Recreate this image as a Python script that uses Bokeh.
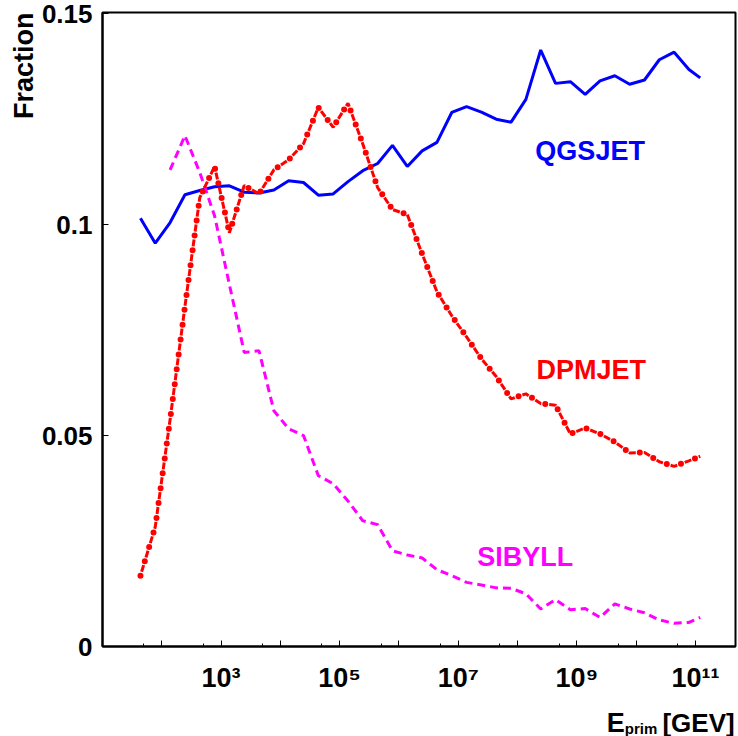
from bokeh.plotting import figure
from bokeh.layouts import column
from bokeh.models import Range1d, FixedTicker, NumeralTickFormatter, Label, ColumnDataSource, Title
from bokeh.embed import file_html
from bokeh.resources import INLINE

# log10 of primary energy (GeV) at each point
log_e = [1.64, 1.89, 2.14, 2.39, 2.64, 2.89, 3.14, 3.39, 3.64, 3.89,
         4.14, 4.39, 4.64, 4.89, 5.14, 5.39, 5.64, 5.89, 6.14, 6.39,
         6.64, 6.89, 7.14, 7.39, 7.64, 7.89, 8.14, 8.39, 8.64, 8.89,
         9.14, 9.39, 9.64, 9.89, 10.14, 10.39, 10.64, 10.89, 11.08]

qgsjet = [0.1015, 0.0956, 0.1005, 0.1071, 0.1081, 0.1090, 0.1092, 0.1077, 0.1075, 0.1082,
          0.1104, 0.1100, 0.1070, 0.1073, 0.1102, 0.1128, 0.1145, 0.1188, 0.1138, 0.1175,
          0.1195, 0.1266, 0.1280, 0.1267, 0.1250, 0.1243, 0.1297, 0.1414, 0.1335, 0.1339,
          0.1309, 0.1341, 0.1353, 0.1333, 0.1343, 0.1391, 0.1409, 0.1368, 0.1348]

dpmjet = [0.0168, 0.0284, 0.0538, 0.0806, 0.1064, 0.1138, 0.0981, 0.1093, 0.1073, 0.1130,
          0.1154, 0.1192, 0.1278, 0.1231, 0.1288, 0.1191, 0.1088, 0.1036, 0.1024, 0.0931,
          0.0841, 0.0784, 0.0734, 0.0682, 0.0640, 0.0587, 0.0599, 0.0576, 0.0572, 0.0504,
          0.0518, 0.0504, 0.0485, 0.0459, 0.0460, 0.0438, 0.0427, 0.0440, 0.0451]

sibyll_log_e = log_e[2:]
sibyll = [0.1130, 0.1211, 0.1124, 0.1021, 0.0858, 0.0697, 0.0701, 0.0559, 0.0516, 0.0500,
          0.0405, 0.0386, 0.0345, 0.0298, 0.0289, 0.0227, 0.0217, 0.0210, 0.0182, 0.0168,
          0.0152, 0.0146, 0.0139, 0.0138, 0.0125, 0.0089, 0.0111, 0.0087, 0.0090, 0.0069,
          0.0101, 0.0089, 0.0080, 0.0063, 0.0055, 0.0057, 0.0069]

x_tick_exponents = [2, 3, 4, 5, 6, 7, 8, 9, 10, 11]
x_tick_labels = ["", "10\u00b3", "", "10\u2075", "", "10\u2077", "", "10\u2079", "", "10\u00b9\u00b9"]
x_minor_exponents = [1, 2, 3, 4, 5, 6, 7, 8, 9, 10]
y_ticks = [0, 0.05, 0.1, 0.15]

FONT = "Liberation Sans"

src_q = ColumnDataSource(dict(e=[10 ** v for v in log_e], f=qgsjet))
src_d = ColumnDataSource(dict(e=[10 ** v for v in log_e], f=dpmjet))
src_s = ColumnDataSource(dict(e=[10 ** v for v in sibyll_log_e], f=sibyll))

p = figure(width=738, height=700, x_axis_type="log",
           x_range=Range1d(10 ** 1.0, 10 ** 11.675), y_range=Range1d(0, 0.1503),
           output_backend="svg", toolbar_location=None, title=None,
           min_border_left=102, min_border_right=3, min_border_top=12, min_border_bottom=54)

p.background_fill_color = "white"
p.border_fill_color = "white"
p.outline_line_color = "black"
p.outline_line_width = 2
p.xgrid.visible = False
p.ygrid.visible = False

# curves
p.line("e", "f", source=src_q, line_color="#0000ff", line_width=3)
p.line("e", "f", source=src_s, line_color="#ff00ff", line_width=3, line_dash="8 5")
p.line("e", "f", source=src_d, line_color="#ff0000", line_width=3, line_dash="0 4 7 4", line_cap="butt")
p.line("e", "f", source=src_d, line_color="#ff0000", line_width=6, line_dash="0 15", line_cap="round")

# x axis
xa = p.xaxis[0]
xa.ticker = FixedTicker(ticks=[10.0 ** k for k in x_tick_exponents],
                        minor_ticks=[5 * 10.0 ** k for k in x_minor_exponents])
xa.major_label_overrides = {10.0 ** k: lab for k, lab in zip(x_tick_exponents, x_tick_labels)}
xa.major_tick_in = 6
xa.major_tick_out = 0
xa.minor_tick_in = 3
xa.minor_tick_out = 0
xa.axis_line_color = "black"
xa.axis_line_width = 2
xa.major_label_text_font = FONT
xa.major_label_text_font_style = "bold"
xa.major_label_text_font_size = "27px"
xa.major_label_text_color = "black"
xa.major_label_standoff = 16

# y axis
ya = p.yaxis[0]
ya.ticker = FixedTicker(ticks=y_ticks, minor_ticks=[])
ya.formatter = NumeralTickFormatter(format="0.[00]")
ya.major_tick_in = 6
ya.major_tick_out = 0
ya.minor_tick_line_color = None
ya.axis_line_color = "black"
ya.axis_line_width = 2
ya.major_label_text_font = FONT
ya.major_label_text_font_style = "bold"
ya.major_label_text_font_size = "26px"
ya.major_label_text_color = "black"
ya.major_label_standoff = 10

# y axis title, at the top end of the axis
p.add_layout(Title(text="Fraction", align="right", vertical_align="bottom",
                   text_font=FONT, text_font_style="bold", text_font_size="27px",
                   text_color="black", standoff=0, offset=0), "left")


def lab(fig, text, x, y, color="black", size="27px", align="left"):
    fig.add_layout(Label(x=x, y=y, x_units="data", y_units="data", text=text,
                         text_font=FONT, text_font_style="bold", text_font_size=size,
                         text_color=color, text_align=align, text_baseline="alphabetic"))


lab(p, "QGSJET", 10 ** 8.30, 0.1175, color="#0000ff")
lab(p, "DPMJET", 10 ** 8.317, 0.0656, color="#ff0000")
lab(p, "SIBYLL", 10 ** 7.321, 0.02127, color="#ff00ff")

# strip below for the x axis title E_prim[GEV]
q = figure(width=738, height=36, x_range=Range1d(0, 738), y_range=Range1d(0, 36),
           x_axis_location=None, y_axis_location=None, output_backend="svg",
           toolbar_location=None, title=None, min_border=0)
q.outline_line_color = None
q.background_fill_color = "white"
q.border_fill_color = "white"
q.grid.visible = False
lab(q, "E", 609, 14, size="27px", align="right")
lab(q, "prim", 609, 8, size="15px", align="left")
lab(q, "[GEV]", 737, 14, size="26px", align="right")

layout = column(p, q, spacing=0)
open("out.html", "w").write(file_html(layout, INLINE))
